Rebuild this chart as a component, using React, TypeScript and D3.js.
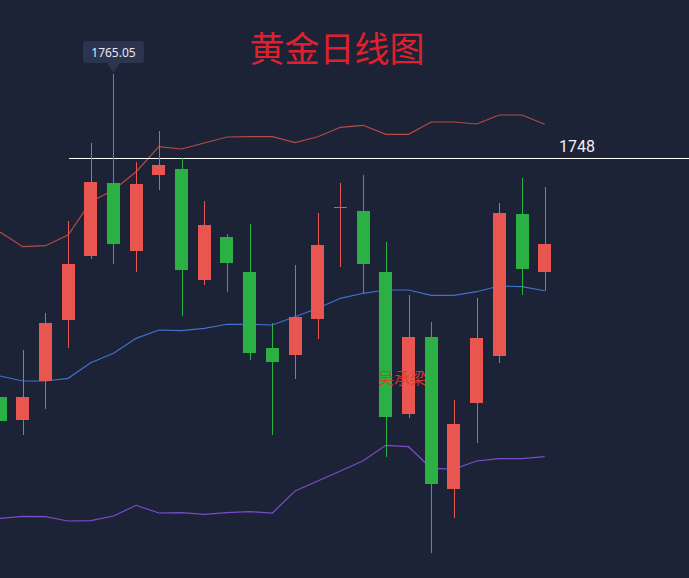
import React from "react";
import * as d3 from "d3";

const W = 689;
const H = 578;

const title = "黄金日线图";
const watermark = "吴承梁";
const markLevel = 1748;
const peakValue = 1765.05;
const peakIndex = 5;

const opens = [1699.55, 1694.82, 1702.8, 1715.12, 1728.11, 1742.93, 1729.18, 1744.55, 1745.77, 1723.24, 1731.96, 1724.86, 1709.43, 1708.01, 1715.32, 1737.85, 1737.24, 1724.86, 1696.04, 1711.67, 1680.81, 1698.27, 1707.81, 1736.63, 1724.86];
const closes = [1694.68, 1699.55, 1714.57, 1726.48, 1743.13, 1730.54, 1742.72, 1746.58, 1725.27, 1734.4, 1726.69, 1708.48, 1706.59, 1715.79, 1730.34, 1738.05, 1726.48, 1695.49, 1711.67, 1681.89, 1694.07, 1711.46, 1736.84, 1725.47, 1730.54];
const highs = [1699.55, 1709.03, 1716.6, 1735.27, 1750.98, 1765.05, 1747.19, 1753.48, 1748.0, 1739.27, 1732.57, 1734.6, 1714.45, 1726.28, 1736.84, 1742.99, 1744.55, 1730.95, 1720.19, 1714.71, 1698.88, 1719.58, 1738.87, 1743.94, 1742.11];
const lows = [1694.68, 1691.78, 1697.11, 1709.43, 1727.56, 1726.48, 1724.92, 1741.5, 1715.93, 1722.22, 1720.86, 1707.0, 1691.78, 1703.14, 1711.26, 1725.94, 1720.6, 1687.37, 1695.23, 1667.89, 1674.99, 1690.15, 1706.39, 1720.19, 1721.0];

const upper = [1732.98, 1730.0, 1730.2, 1732.37, 1739.13, 1741.5, 1745.22, 1750.29, 1749.83, 1751.04, 1752.26, 1752.32, 1752.32, 1751.11, 1752.32, 1754.23, 1754.64, 1752.81, 1752.81, 1755.31, 1755.31, 1754.9, 1756.73, 1756.73, 1754.84];
const middle = [1703.75, 1702.74, 1702.74, 1703.28, 1706.45, 1708.36, 1711.4, 1713.09, 1712.95, 1713.43, 1714.25, 1714.25, 1714.1, 1715.79, 1717.49, 1719.52, 1720.54, 1721.21, 1721.21, 1720.13, 1720.13, 1720.86, 1722.02, 1721.88, 1721.06];
const lower = [1674.87, 1675.27, 1675.19, 1674.32, 1674.38, 1675.33, 1677.51, 1675.94, 1676.0, 1675.68, 1676.0, 1676.21, 1675.94, 1680.41, 1682.44, 1684.47, 1686.56, 1689.68, 1689.4, 1685.02, 1684.87, 1686.5, 1686.97, 1686.97, 1687.37];

const BG = "#1d2336";
const UP = "#e9564f";
const DOWN = "#2bb043";

export default function App() {
  const n = opens.length;
  const x = d3.scaleLinear().domain([0, n - 1]).range([0, 544.7]);
  const y = d3.scaleLinear().domain([markLevel, peakValue]).range([158, 74]);
  const bodyW = 13;

  const line = (vals: number[]) =>
    d3
      .line<number>()
      .x((_, i) => x(i))
      .y((v) => y(v))(vals) || "";

  const px = x(peakIndex);
  const py = y(peakValue);

  return (
    <svg
      width={W}
      height={H}
      style={{ position: "fixed", left: 0, top: 0, display: "block" }}
    >
      <rect x={0} y={0} width={W} height={H} fill={BG} />

      <path d={line(upper)} fill="none" stroke="#b34b46" strokeWidth={1.2} />
      <path d={line(middle)} fill="none" stroke="#4070d0" strokeWidth={1.2} />
      <path d={line(lower)} fill="none" stroke="#7a4ccc" strokeWidth={1.2} />

      <line x1={69} x2={W} y1={y(markLevel) + 0.5} y2={y(markLevel) + 0.5} stroke="#ffffff" strokeWidth={1} shapeRendering="crispEdges" />
      <text x={577} y={152} fill="#f0f0f5" fontSize={16} textAnchor="middle" fontFamily="Roboto, 'Noto Sans', sans-serif">
        {markLevel}
      </text>

      {opens.map((o, i) => {
        const c = closes[i];
        const up = c >= o;
        const col = up ? UP : DOWN;
        const cx = Math.round(x(i)) + 0.5;
        const top = y(Math.max(o, c));
        const bot = y(Math.min(o, c));
        return (
          <g key={i} shapeRendering="crispEdges">
            <line x1={cx} x2={cx} y1={y(highs[i])} y2={y(lows[i])} stroke={col} strokeWidth={1} />
            <rect x={Math.round(x(i) - bodyW / 2)} y={top} width={bodyW} height={Math.max(1, bot - top)} fill={col} />
          </g>
        );
      })}

      <g>
        <rect x={px - 30.5} y={py - 33} width={61} height={22} rx={3} fill="#2b3550" />
        <path d={`M${px - 7},${py - 11.5} L${px + 7},${py - 11.5} L${px},${py - 1.5} Z`} fill="#2b3550" />
        <text x={px} y={py - 17.5} fill="#e6e8f0" fontSize={12} textAnchor="middle" fontFamily="'Noto Sans', sans-serif">
          {peakValue.toFixed(2)}
        </text>
      </g>

      <text x={337} y={62} fill="#e0202c" fontSize={35} textAnchor="middle" fontFamily="'Noto Sans CJK SC', sans-serif">
        {title}
      </text>

      <text x={402} y={384} fill="#e03a2c" fontSize={16} textAnchor="middle" fontFamily="'Noto Sans CJK SC', sans-serif" opacity={0.9}>
        {watermark}
      </text>
    </svg>
  );
}
